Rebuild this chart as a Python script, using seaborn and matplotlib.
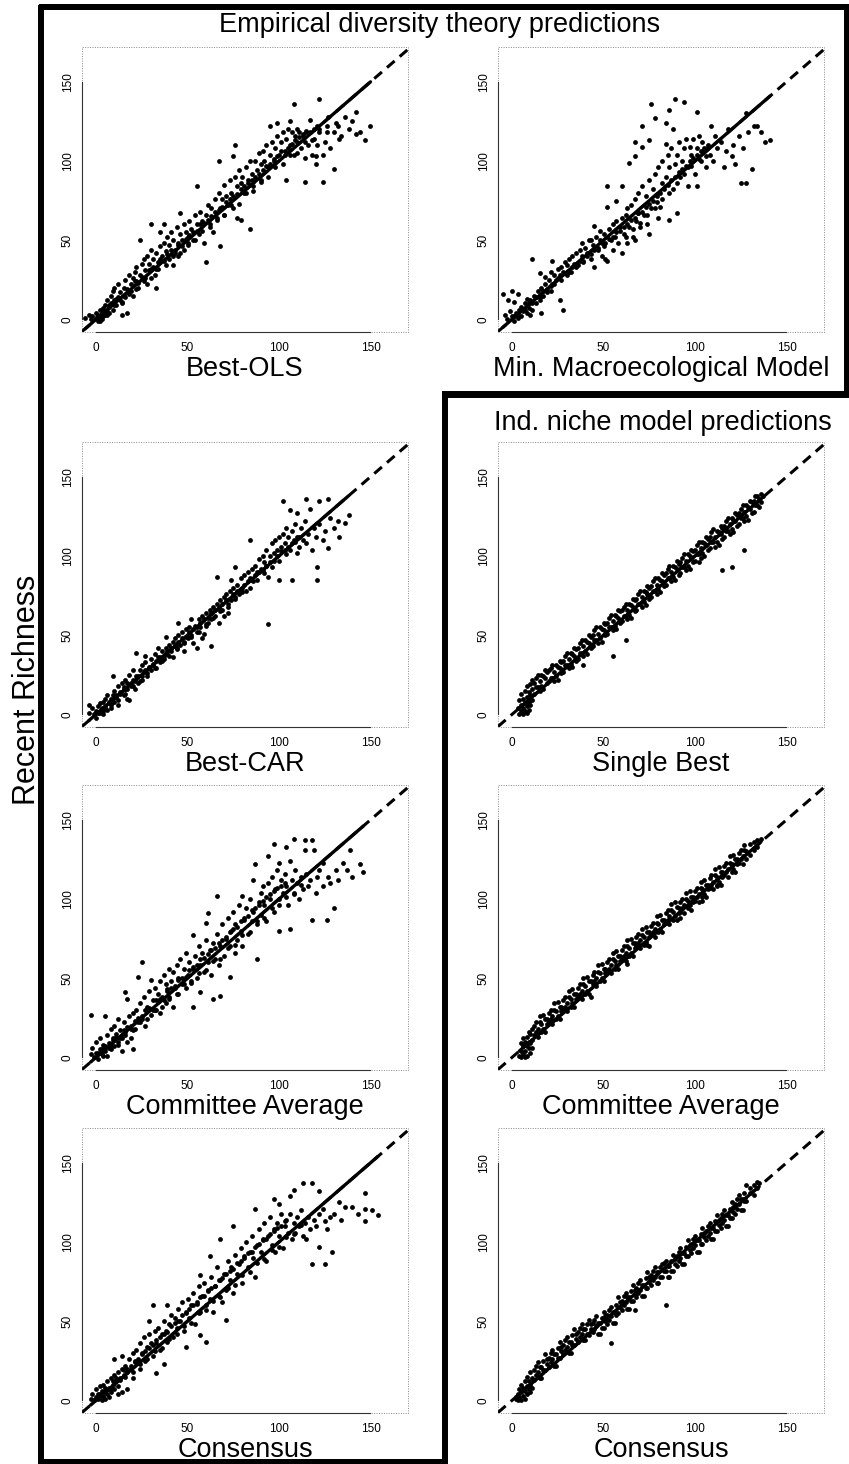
import matplotlib
matplotlib.use("Agg")
import matplotlib.pyplot as plt
import seaborn as sns
import pandas as pd
from matplotlib.patches import Rectangle

# ---------------- data ----------------
best_ols = [(-6,1),(-4,3),(-3,0),(-2,2),(0,1),(0,4),(1,-1),(1,3),(2,2),(2,6),(3,0),(3,4),(4,2),(4,7),(5,3),(5,9),(6,5),(6,12),(7,4),(7,8),(8,10),(8,15),(9,6),(9,18),(10,12),(10,20),(11,9),(12,14),(12,22),(13,17),(14,11),(14,3),(15,20),(16,25),(16,14),(17,4),(18,18),(18,28),(19,22),(20,15),(20,26),
(21,30),(22,24),(22,33),(23,20),(24,28),(24,50),(25,35),(26,26),(26,38),(27,31),(28,40),(28,22),(29,35),(30,32),(30,44),(30,60),(31,38),(32,28),(33,42),(33,20),(34,36),(35,46),(35,55),(36,40),(37,48),(37,60),(38,43),(39,52),(40,38),(40,47),(41,55),(42,34),(42,50),(43,44),(44,58),(45,48),(45,40),(46,54),(46,67),(47,50),(48,44),(48,60),(49,55),(50,52),(50,47),(51,62),(52,57),(53,50),(54,66),(55,60),(55,84),(56,54),(57,68),(58,62),(59,48),(60,66),(60,36),(61,72),(62,60),(63,70),(64,55),(65,76),
(66,64),(67,80),(67,100),(68,46),(68,70),(69,76),(70,66),(70,85),(71,78),(72,72),(73,88),(74,80),(75,103),(75,70),(76,90),(76,110),(77,64),(77,84),(78,94),(79,63),(79,86),(80,90),(81,80),(82,96),(83,88),(84,57),(84,100),(85,92),(86,84),(87,100),(88,94),(89,105),(90,98),(90,88),(91,106),(92,100),(93,110),(94,96),(95,104),(95,122),(96,112),(97,100),(98,108),(99,124),(99,116),(100,104),
(101,112),(102,118),(103,106),(104,88),(104,114),(105,120),(106,125),(106,110),(107,118),(108,136),(108,104),(109,116),(110,112),(110,120),(111,118),(112,108),(113,116),(114,87),(114,102),(115,118),(116,110),(117,126),(118,104),(119,114),(120,103),(120,98),(121,110),(122,139),(122,118),(124,87),(124,104),(125,112),(126,122),(127,128),(128,108),(130,95),(130,118),(131,124),(132,122),(133,114),(134,116),(136,128),(138,120),(140,125),(142,131),(142,117),(144,118),(147,113),(150,122),
(1,2),(2,-1),(4,5),(5,4),(7,9),(9,10),(11,13),(13,12),(15,15),(17,19),(19,18),(21,24),(23,23),(25,27),(27,26),(29,31),(31,33),(33,32),(35,38),(37,37),(39,41),(41,44),(43,42),(45,47),(47,46),(49,51),(51,53),(53,55),(55,56),(57,60),(59,61),(61,63),(63,65),(65,68),(67,69),(69,71),(71,74),(73,76),(75,78),(77,79),(79,82),(81,84),(83,86),(85,88),(87,90),(89,92),(91,94),(93,97),(95,98),(97,101),(99,103),(101,106),(103,104),(105,108),(107,111),(109,113),(111,115),(113,117),(115,119),(117,118),(119,120),(121,122),
(2,0),(6,3),(10,9),(14,10),(18,16),(22,19),(26,24),(30,26),(34,32),(38,34),(42,40),(46,42),(50,48),(54,50),(58,56),(62,58),(66,63),(70,66),(74,72),(78,73),(82,80),(86,81),(90,87),(94,90),(98,96),(102,98),(106,104),(110,105),(114,112),(118,113),(122,120),(126,118)]

min_macro = [(-5,16),(-4,3),(-3,0),(-2,12),(-1,5),(0,18),(0,2),(1,11),(1,-1),(2,4),(3,16),(3,1),(4,6),(5,8),(5,2),(6,5),(7,10),(8,4),(8,13),(9,7),(10,12),(10,3),(11,38),(11,6),(12,15),(13,10),(14,18),(15,29),(15,12),(16,4),(16,20),(17,15),(18,27),(18,22),(19,17),(20,25),(21,18),(21,30),(22,37),(22,22),(23,28),(24,25),(25,32),(26,12),(26,28),(27,33),(28,6),(28,30),(29,36),(30,28),(30,34),
(31,38),(32,30),(33,40),(34,35),(35,42),(36,34),(37,44),(38,40),(38,48),(39,36),(40,45),(41,42),(42,50),(43,50),(43,38),(44,47),(45,33),(45,59),(46,52),(47,44),(48,56),(48,50),(49,40),(50,54),(50,46),(51,38),(52,71),(52,84),(52,37),(53,57),(54,50),(55,44),(55,60),(56,52),(57,75),(57,62),(58,48),(59,58),(60,42),(60,84),(60,64),(61,54),(62,66),(63,48),(63,70),(64,99),(64,58),(65,72),(66,52),(67,103),(67,112),(67,50),(67,76),(68,62),(69,67),(69,80),(70,58),(71,109),(71,122),(71,84),(72,66),(73,78),(74,60),(75,113),(75,54),(75,88),(76,136),(76,70),(77,82),(78,127),(78,92),(79,74),(80,96),(80,64),(81,71),(82,100),(82,86),
(84,111),(84,124),(84,90),(85,104),(86,63),(86,132),(86,96),(87,108),(88,120),(88,82),(89,139),(89,98),(90,67),(90,104),(91,112),(92,90),(93,100),(94,137),(94,108),(95,114),(96,84),(96,96),(97,109),(98,104),(99,114),(100,92),(101,84),(101,131),(101,108),(102,116),(103,100),(104,112),(105,106),(106,96),(107,110),(108,104),(109,122),(110,100),(111,116),(112,108),(114,112),(116,96),(117,106),(118,120),(120,103),(121,110),(122,98),(124,116),(125,86),(126,108),(128,86),(128,130),(129,118),(131,95),(132,122),(134,122),(136,118),(138,112),(141,113),
(1,2),(3,3),(5,6),(7,6),(9,10),(11,10),(13,14),(15,14),(17,18),(19,19),(21,21),(23,22),(25,26),(27,25),(29,29),(31,30),(33,33),(35,33),(37,37),(39,37),(41,40),(43,41),(45,44),(47,45),(49,48),(51,48),(53,51),(55,52),(57,55),(59,56),(61,58),(63,60),(65,63),(67,64),(69,67),(71,68),(73,71),(75,73),(77,75),(79,78),(81,80),(83,82),(85,85),(87,88),(89,90),(91,93),(93,95),(95,97),(97,100),(99,102),(101,104),(103,106),(105,108),(107,109),
(62,52),(66,57),(70,61),(74,66),(78,70),(82,76),(86,80),(90,86),(94,92),(98,97),(102,101),(106,103)]

best_car = [(-4,1),(-4,6),(-2,4),(-1,0),(0,2),(0,-2),(1,5),(2,1),(2,7),(3,3),(4,8),(4,0),(5,5),(5,10),(6,3),(6,12),(7,7),(8,10),(8,4),(9,24),(9,12),(10,8),(10,15),(11,11),(12,18),(12,6),(13,14),(14,20),(15,12),(15,17),(16,16),(16,22),(17,10),(17,20),(18,9),(18,25),(19,18),(20,22),(20,28),(21,16),(22,39),(22,24),(23,20),(24,28),(25,31),(25,22),(26,27),(27,37),(27,33),(28,24),(29,30),(30,35),(30,28),(31,32),(32,38),(33,29),(34,36),(34,42),(35,33),(36,40),(37,35),(38,49),(38,42),(39,38),(40,44),(41,40),(42,46),(42,36),(43,48),(44,42),(45,58),(45,50),(46,44),(47,52),(48,46),(48,40),(49,54),(50,48),(51,55),(52,60),(52,50),(53,45),(54,56),(55,52),(55,42),(56,60),(57,55),(58,62),(58,48),(59,51),(60,64),(60,56),(61,58),(62,66),(63,43),(63,60),(64,68),(65,62),(66,87),(66,70),(67,58),(68,72),(69,66),(70,74),(70,62),(71,76),(72,64),(72,70),(73,78),(74,85),(74,72),(75,80),(76,93),(76,74),(77,82),(78,76),(79,86),(80,80),(81,88),(82,78),(83,90),(84,110),(84,86),(85,92),(86,84),(87,94),(88,90),(89,98),(90,92),(91,100),(92,96),(93,94),(93,104),(94,87),(94,57),(95,100),(96,108),(97,102),(98,110),(99,104),(100,85),(100,112),(101,106),(102,135),(102,114),(103,108),(104,118),(105,112),(106,129),(106,104),(107,85),(107,116),(108,110),(109,120),(110,127),(110,112),(110,102),(111,106),(112,118),(113,110),(114,122),(115,136),(115,108),(116,114),(117,130),(118,104),(119,118),(120,112),(121,93),(121,85),(122,135),(122,120),(124,110),(125,116),(127,136),(127,105),(128,124),(130,118),(132,122),(133,112),(136,121),(138,126),
(1,1),(3,4),(5,4),(7,8),(9,8),(11,12),(13,13),(15,16),(17,16),(19,20),(21,21),(23,24),(25,24),(27,28),(29,29),(31,31),(33,34),(35,36),(37,37),(39,40),(41,42),(43,43),(45,46),(47,48),(49,49),(51,52),(53,54),(55,55),(57,58),(59,60),(61,61),(63,64),(65,66),(67,67),(69,70),(71,72),(73,73),(75,76),(77,78),(79,79),(81,82),(83,84),(85,85),(87,88),(89,90),(91,91),(93,94),(95,96),(97,97),(99,100),(101,103),(103,104),(105,106),(107,108),(109,109),(111,112),
(4,2),(8,6),(12,9),(16,13),(20,18),(24,21),(28,26),(32,29),(36,34),(40,37),(44,41),(48,45),(52,49),(56,52),(60,57),(64,61),(68,65),(72,68),(76,73),(80,77),(84,80),(88,85),(92,89),(96,93),(100,97),(104,101)]

committee_emp = [(-3,27),(-3,2),(-2,6),(-1,0),(0,3),(0,10),(1,-1),(2,5),(2,12),(3,2),(4,8),(5,26),(5,4),(6,14),(6,1),(7,9),(8,18),(8,5),(9,12),(10,7),(10,20),(11,15),(12,10),(12,24),(13,17),(14,4),(14,12),(15,22),(16,41),(16,16),(17,37),(17,10),(18,26),(19,12),(19,20),(20,5),(20,28),(21,18),(22,30),(23,51),(23,22),(24,34),(25,60),(25,26),(26,38),(27,20),(28,32),(29,42),(30,49),(30,27),(31,36),(32,44),(33,30),(34,40),(35,28),(35,48),(36,38),(37,52),(38,34),(38,46),(39,42),(40,56),(40,38),(41,48),(42,32),(42,54),(43,44),(44,58),(45,40),(45,50),(46,62),(47,46),(48,56),(49,44),(49,66),(50,52),(51,60),(52,48),(53,77),(53,32),(53,56),(54,64),(55,50),(56,70),(57,41),(57,58),(58,66),(59,54),(60,85),(60,74),(61,91),(61,60),(62,68),(63,52),(64,37),(64,72),(65,62),(66,102),(66,78),(67,58),(68,39),(68,70),(69,84),(70,64),(71,76),(72,88),(73,51),(73,70),(74,80),(75,92),(76,66),(76,84),(77,74),(78,96),(79,80),(80,102),(80,70),(81,88),(82,94),(83,78),(84,100),(85,86),(86,112),(86,92),(87,122),(88,62),(88,84),(89,98),(90,104),(90,90),(91,108),(92,96),(93,86),(94,127),(94,110),(95,100),(96,114),(97,135),(97,92),(98,106),(99,118),(100,123),(100,80),(100,100),(101,112),(102,104),(103,116),(104,133),(104,108),(105,96),(106,124),(106,81),(107,112),(108,138),(108,104),(109,118),(110,110),(111,100),(112,114),(113,106),(114,137),(114,131),(115,116),(116,108),(117,112),(118,137),(118,87),(119,131),(120,104),(121,114),(122,118),(124,123),(124,108),(126,87),(127,114),(128,110),(130,94),(131,118),(132,112),(135,123),(137,118),(139,131),(140,114),(144,122),(146,117),
(1,3),(3,5),(5,7),(7,6),(9,11),(11,13),(13,12),(15,17),(17,19),(19,18),(21,23),(23,25),(25,24),(27,30),(29,31),(31,30),(33,36),(35,37),(37,36),(39,43),(41,44),(43,45),(45,49),(47,50),(49,51),(51,55),(53,57),(55,58),(57,62),(59,63),(61,65),(63,68),(65,69),(67,72),(69,74),(71,75),(73,79),(75,81),(77,82),(79,86),(81,87),(83,89),(85,93),(87,94),(89,96),(91,99),(93,101),(95,103),(97,105),(99,107),(101,108),(103,110),
(4,1),(8,7),(12,8),(16,14),(20,17),(24,22),(28,24),(32,30),(36,32),(40,37),(44,40),(48,46),(52,47),(56,53),(60,55),(64,61),(68,62),(72,69),(76,71),(80,77),(84,79),(88,86),(92,88),(96,94),(100,96),(104,101),(108,103),(112,109)]

consensus_emp = [(-3,1),(-2,4),(-1,0),(0,2),(0,7),(1,1),(2,4),(2,9),(3,0),(3,6),(4,3),(4,10),(5,6),(5,1),(6,12),(6,4),(7,8),(7,2),(8,14),(8,5),(9,10),(10,26),(10,16),(10,7),(11,12),(12,18),(12,4),(13,14),(14,28),(14,5),(14,20),(15,16),(16,22),(17,7),(17,18),(18,26),(19,20),(20,30),(20,14),(21,24),(22,32),(23,26),(24,20),(24,36),(25,30),(26,40),(27,25),(28,34),(29,50),(29,42),(30,36),(31,60),(31,28),(32,44),(33,17),(33,38),(34,46),(35,32),(36,42),(37,23),(37,50),(38,44),(39,60),(39,37),(40,48),(41,54),(42,40),(43,52),(44,46),(45,58),(46,50),(47,62),(48,44),(49,34),(49,56),(50,64),(51,52),(52,60),(53,68),(54,48),(55,62),(56,72),(57,79),(57,41),(57,56),(58,66),(59,74),(60,37),(60,60),(61,70),(62,91),(62,64),(63,78),(64,56),(65,72),(66,84),(67,66),(68,102),(68,76),(69,62),(70,80),(71,51),(71,70),(72,88),(73,76),(74,84),(75,110),(75,68),(76,92),(77,80),(78,86),(79,96),(80,74),(81,90),(82,100),(83,84),(84,94),(85,104),(86,90),(87,121),(87,78),(88,98),(89,108),(90,94),(91,102),(92,112),(93,88),(94,104),(95,116),(96,98),(97,127),(97,108),(98,94),(99,112),(100,124),(100,104),(101,118),(102,96),(103,110),(104,114),(105,106),(106,129),(106,118),(107,102),(108,133),(108,112),(109,106),(110,116),(111,110),(112,120),(113,137),(113,104),(114,112),(115,102),(116,116),(117,108),(118,137),(118,86),(119,114),(120,110),(122,132),(122,97),(122,118),(124,121),(125,113),(125,86),(126,108),(128,116),(129,94),(130,118),(133,125),(134,114),(136,122),(140,122),(143,118),(147,131),(147,121),(147,113),(151,120),(154,117),
(1,4),(3,3),(5,8),(7,7),(9,12),(11,14),(13,13),(15,19),(17,20),(19,22),(21,25),(23,24),(25,29),(27,31),(29,33),(31,35),(33,36),(35,40),(37,42),(39,43),(41,47),(43,49),(45,50),(47,54),(49,55),(51,58),(53,60),(55,61),(57,65),(59,66),(61,69),(63,71),(65,72),(67,76),(69,77),(71,80),(73,82),(75,83),(77,87),(79,88),(81,91),(83,93),(85,94),(87,97),(89,99),(91,101),(93,102),(95,105),(97,107),(99,109),(101,110),(103,113),
(4,2),(8,8),(12,9),(16,15),(20,18),(24,23),(28,26),(32,31),(36,33),(40,39),(44,42),(48,47),(52,49),(56,55),(60,57),(64,63),(68,65),(72,71),(76,73),(80,79),(84,81),(88,87),(92,89),(96,95),(100,97),(104,103),(108,105),(112,111)]

single_best = [(3,4),(4,0),(4,9),(5,2),(5,6),(5,13),(6,0),(6,4),(6,10),(7,2),(7,7),(7,15),(8,1),(8,5),(8,11),(8,18),(9,3),(9,8),(9,14),(10,6),(10,12),(10,19),(11,9),(11,16),(11,22),
(12,13),(12,20),(13,23),(13,17),(14,17),(14,25),(15,21),(15,15),(16,25),(16,18),(17,16),(17,24),(18,23),(18,28),(19,27),(19,20),(20,21),(20,28),(21,29),(21,23),(22,23),(22,31),(23,27),(23,21),(24,31),(24,24),(25,22),(25,30),(26,29),(26,34),(27,33),(27,26),(28,27),(28,34),(29,37),(29,31),(30,31),(30,39),(31,35),(31,29),(32,39),(32,32),(33,30),(33,38),(34,37),(34,42),(35,41),(35,34),(36,35),(36,42),(37,45),(37,39),(38,39),(38,47),(39,43),(39,37),(39,31),(40,47),(40,40),(41,38),(41,46),(42,45),(42,50),(43,49),(43,42),(44,43),(44,50),(45,53),(45,47),(46,47),(46,55),(47,51),(47,45),(48,55),(48,48),(49,46),(49,54),(50,53),(50,58),(51,57),(51,50),(52,51),(52,58),(53,61),(53,55),(54,55),(54,63),(55,59),(55,53),(55,37),(56,63),(56,56),(57,54),(57,62),(58,61),(58,66),(59,65),(59,58),(60,59),(60,66),(61,68),(61,62),(62,62),(62,70),(62,47),(63,66),(63,60),(64,70),(64,63),(65,61),(65,69),(66,68),(66,73),(67,72),(67,65),(68,66),(68,73),(69,76),(69,70),(70,70),(70,78),(71,74),(71,68),(72,78),(72,71),(73,69),(73,77),(74,76),(74,81),(75,80),(75,73),(76,74),(76,81),(77,84),(77,78),(78,78),(78,86),(79,82),(79,76),(80,86),(80,79),
(81,77),(81,85),(82,84),(82,89),(83,88),(83,81),(84,82),(84,89),(85,92),(85,86),(86,86),(86,94),(87,90),(87,84),(88,94),(88,87),(89,85),(89,93),(90,92),(90,97),(91,95),(91,88),(92,89),(92,96),(93,99),(93,93),(94,93),(94,101),(95,97),(95,91),(96,101),(96,94),(97,92),(97,100),(98,99),(98,104),(99,103),(99,96),(100,97),(100,104),(101,107),(101,101),(102,101),(102,109),(102,96),(103,105),(103,99),(104,109),(104,102),(105,100),(105,108),(106,107),(106,112),(107,111),(107,104),(108,105),(108,112),(109,115),(109,109),(110,109),(110,117),(111,112),(111,106),(112,116),(112,109),(113,107),(113,115),(114,114),(114,119),(115,118),(115,111),(115,91),(116,112),(116,119),(117,122),(117,116),(118,116),(118,124),(119,120),(119,114),(120,124),(120,117),(120,93),(121,115),(121,123),(122,122),(122,127),(123,126),(123,119),(124,120),(124,127),(125,130),(125,124),(126,124),(126,132),(127,128),(127,122),(127,104),(128,132),(128,125),(129,123),(129,131),(130,130),(130,135),(131,134),(131,127),(132,128),(132,135),(133,138),(133,132),(134,132),(134,138),(135,136),(135,131),(136,139),(136,134),(137,138)]

committee_niche = [(4,1),(5,4),(5,0),(5,9),(6,7),(6,2),(6,12),(7,10),(7,4),(7,0),(8,1),(8,13),(8,7),(9,6),(9,10),(9,16),(10,15),(10,3),(10,9),(11,11),(11,18),(11,6),
(12,14),(12,20),(13,22),(13,16),(14,18),(14,13),(15,22),(15,26),(16,16),(16,21),(17,27),(17,18),(18,16),(18,24),(19,24),(19,21),(20,22),(20,28),(21,30),(21,24),(22,26),(22,21),(23,30),(23,34),(24,24),(24,29),(25,35),(25,26),(26,24),(26,32),(27,32),(27,29),(28,30),(28,36),(29,38),(29,32),(30,34),(30,29),(31,38),(31,42),(32,32),(32,37),(33,43),(33,34),(34,32),(34,40),(35,40),(35,37),(36,38),(36,44),(37,46),(37,40),(38,42),(38,37),(39,46),(39,50),(40,40),(40,45),(41,51),(41,42),(42,40),(42,48),(43,48),(43,38),(44,46),(44,52),(45,54),(45,48),(46,50),(46,45),(47,54),(47,58),(48,48),(48,53),(49,59),(49,50),(50,48),(50,56),(51,56),(51,53),(52,54),(52,60),(53,62),(53,56),(54,58),(54,53),(55,62),(55,66),(56,56),(56,61),(57,67),(57,58),(58,56),(58,64),(59,64),(59,61),(60,62),(60,68),(61,70),(61,64),(62,66),(62,61),(63,70),(63,74),(63,59),(64,64),(64,69),(65,75),(65,66),(66,64),(66,72),(67,72),(67,69),(68,70),(68,76),(69,78),(69,72),(70,74),(70,69),(71,77),(71,81),(72,71),(72,76),(73,82),(73,73),(74,71),(74,79),(75,79),(75,76),(75,70),(76,77),(76,83),(77,85),(77,79),(78,81),(78,76),(79,85),(79,89),(80,79),(80,84),
(81,90),(81,81),(82,79),(82,87),(83,87),(83,84),(84,85),(84,91),(85,93),(85,87),(86,89),(86,84),(87,93),(87,97),(88,87),(88,92),(89,98),(89,89),(90,87),(90,95),(91,94),(91,91),(92,92),(92,98),(92,88),(93,100),(93,94),(94,96),(94,91),(95,100),(95,104),(96,94),(96,99),(97,105),(97,96),(98,93),(98,101),(99,101),(99,98),(100,99),(100,105),(101,107),(101,101),(102,103),(102,98),(103,107),(103,111),(104,101),(104,106),(104,99),(105,112),(105,103),(106,101),(106,109),(107,109),(107,106),(108,107),(108,113),(109,115),(109,109),(110,111),(110,106),(111,115),(111,119),(112,109),(112,114),(112,108),(113,120),(113,111),(114,109),(114,117),(115,117),(115,114),(116,115),(116,121),(117,123),(117,117),(118,119),(118,114),(119,123),(119,127),(120,117),(120,122),(121,128),(121,119),(122,117),(122,125),(123,125),(123,122),(124,123),(124,129),(125,131),(125,125),(126,127),(126,122),(127,131),(127,134),(128,125),(128,130),(130,135),(130,128),(132,131),(132,136),(134,137),(134,133),(136,138)]

consensus_niche = [(2,1),(3,0),(3,4),(4,2),(4,7),(5,0),(5,5),(5,10),(6,3),(6,8),(7,1),(7,6),(7,12),(8,4),(8,9),(8,15),(9,7),(9,12),(10,5),(10,10),(10,18),(11,14),(11,8),
(12,19),(12,13),(13,16),(13,22),(14,24),(14,18),(15,14),(15,21),(16,21),(16,14),(17,25),(17,19),(18,19),(18,29),(19,23),(19,26),(20,27),(20,21),(21,24),(21,30),(22,32),(22,26),(23,22),(23,29),(24,29),(24,22),(25,33),(25,27),(26,27),(26,37),(27,31),(27,34),(28,35),(28,29),(29,32),(29,38),(30,40),(30,34),(31,30),(31,37),(32,37),(32,30),(33,41),(33,35),(34,35),(34,45),(35,39),(35,42),(36,43),(36,37),(37,40),(37,46),(38,48),(38,42),(39,38),(39,45),(40,45),(40,38),(41,48),(41,42),(42,41),(42,51),(43,45),(43,48),(44,49),(44,43),(45,45),(45,51),(46,53),(46,47),(47,42),(47,49),(48,49),(48,42),(49,52),(49,46),(50,46),(50,56),(51,50),(51,53),(52,54),(52,48),(53,51),(53,57),(54,59),(54,53),(54,36),(55,49),(55,56),(56,56),(56,49),(57,60),(57,54),(58,55),(58,65),(59,59),(59,62),(60,63),(60,57),(61,60),(61,66),(62,68),(62,62),(63,58),(63,65),(64,65),(64,58),(65,69),(65,63),(66,63),(66,73),(67,67),(67,70),(67,57),(68,71),(68,65),(69,68),(69,74),(70,76),(70,70),(71,66),(71,73),(72,73),(72,66),(73,77),(73,71),(74,71),(74,81),(75,75),(75,78),(76,79),(76,73),(77,76),(77,82),(78,84),(78,78),(79,74),(79,81),(80,81),(80,74),
(81,84),(81,78),(82,78),(82,86),(83,82),(83,87),(84,88),(84,82),(84,60),(85,78),(85,85),(86,85),(86,78),(87,88),(87,82),(88,82),(88,92),(89,86),(89,89),(90,91),(90,85),(91,88),(91,94),(92,96),(92,90),(93,86),(93,93),(94,93),(94,86),(95,97),(95,91),(96,91),(96,101),(97,95),(97,98),(98,99),(98,93),(99,96),(99,102),(100,104),(100,98),(101,94),(101,101),(102,101),(102,94),(103,105),(103,99),(104,99),(104,109),(105,103),(105,106),(106,107),(106,101),(107,104),(107,110),(108,112),(108,106),(109,102),(109,109),(110,109),(110,102),(111,113),(111,107),(112,107),(112,117),(113,111),(113,114),(114,115),(114,109),(115,112),(115,118),(116,120),(116,114),(117,110),(117,117),(118,117),(118,110),(119,121),(119,115),(120,115),(120,125),(121,119),(121,122),(122,124),(122,118),(123,121),(123,127),(124,130),(124,124),(125,120),(125,127),(126,127),(126,120),(127,131),(127,126),(128,126),(128,136),(130,131),(130,134),(132,136),(132,130),(134,134),(134,138),(135,137)]

panel_data = [best_ols, min_macro, best_car, single_best,
              committee_emp, committee_niche, consensus_emp, consensus_niche]
panel_labels = ["Best-OLS", "Min. Macroecological Model", "Best-CAR", "Single Best",
                "Committee Average", "Committee Average", "Consensus", "Consensus"]
tick_values = [0, 50, 100, 150]
group_titles = ["Empirical diversity theory predictions", "Ind. niche model predictions"]
y_title = "Recent Richness"

# ---------------- figure ----------------
sns.set_style("white")
plt.rcParams["font.family"] = ["Liberation Sans", "DejaVu Sans"]
plt.rcParams["text.color"] = "black"
plt.rcParams["axes.labelcolor"] = "black"
plt.rcParams["xtick.color"] = "black"
plt.rcParams["ytick.color"] = "black"

W, H = 849, 1464
fig = plt.figure(figsize=(W / 100, H / 100), dpi=100)

col_left = [82, 498]
row_bottom = [332, 727, 1070, 1413]
ax_w, ax_h = 326, 285

for i, (pts, lab) in enumerate(zip(panel_data, panel_labels)):
    r, c = divmod(i, 2)
    ax = fig.add_axes([col_left[c] / W, 1 - row_bottom[r] / H, ax_w / W, ax_h / H])
    df = pd.DataFrame(pts, columns=["pred", "obs"])
    sns.scatterplot(data=df, x="pred", y="obs", ax=ax, color="black", s=12,
                    linewidth=0, zorder=3)
    # solid 1:1 segment over the range of the predictions
    lo, hi = df["pred"].min(), df["pred"].max()
    seg = pd.DataFrame({"pred": [lo, hi], "obs": [lo, hi]})
    sns.lineplot(data=seg, x="pred", y="obs", ax=ax, color="black", lw=2.4, zorder=2.5)
    ax.axline((0, 0), slope=1, color="black", lw=2.2, ls=(0, (3.3, 2.2)), zorder=2)
    ax.set_xlim(-7.7, 170.5)
    ax.set_ylim(-8, 172)
    ax.set_xticks(tick_values)
    ax.set_yticks(tick_values)
    ax.tick_params(axis="both", labelsize=8.5, length=2.5, width=0.7, direction="out",
                   color="#333")
    ax.tick_params(axis="x", pad=5)
    ax.tick_params(axis="y", pad=3.5)
    for t in ax.get_yticklabels():
        t.set_rotation(90)
        t.set_va("center")
    for side in ["top", "right"]:
        ax.spines[side].set_visible(False)
    for side in ["left", "bottom"]:
        ax.spines[side].set_color("#333")
        ax.spines[side].set_linewidth(0.8)
        ax.spines[side].set_bounds(0, 150)
    ax.add_patch(Rectangle((0, 0), 1, 1, transform=ax.transAxes, fill=False,
                           ls=(0, (1, 1.5)), ec="#888", lw=0.7, clip_on=False, zorder=1))
    ax.set_xlabel(lab, fontsize=19.5, labelpad=1)
    ax.set_ylabel("")
    ax.set_facecolor("none")

# ---------------- frames and titles ----------------
ov = fig.add_axes([0, 0, 1, 1], zorder=10)
ov.set_xlim(0, W)
ov.set_ylim(H, 0)
ov.axis("off")
ov.set_facecolor("none")
ov.plot([41, 847, 847, 445, 445, 41, 41], [7, 7, 394, 394, 1462, 1462, 7],
        color="black", lw=4.3, solid_joinstyle="miter")
ov.plot([445, 849], [395, 395], color="black", lw=4.3)

fig.text(440 / W, 1 - 25 / H, group_titles[0], ha="center", va="center", fontsize=19.5)
fig.text(663 / W, 1 - 423 / H, group_titles[1], ha="center", va="center", fontsize=19.5)
fig.text(27 / W, 1 - 690 / H, y_title, ha="center", va="center", rotation=90,
         fontsize=22)

fig.savefig("out.png", dpi=100)
